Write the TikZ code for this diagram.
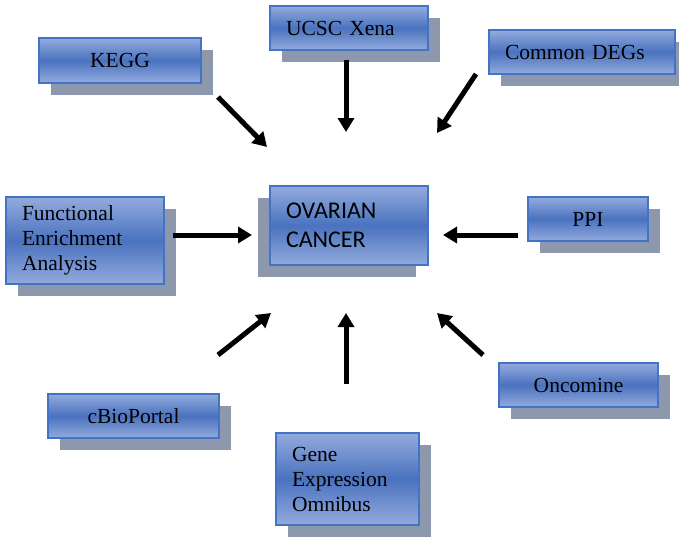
\documentclass[tikz,border=0pt]{standalone}
\usepackage{fontspec}
\setmainfont{Liberation Serif}
\newfontfamily\calibfont{Carlito}
\usepackage{tikz}
\usetikzlibrary{arrows.meta,shadows}

\definecolor{boxlight}{HTML}{93ABDD}
\definecolor{boxdark}{HTML}{4A72BF}
\definecolor{boxline}{HTML}{4472C4}
\definecolor{shadowgray}{HTML}{8E98AC}

\tikzset{
  srcbox/.style={draw=boxline, line width=1.2pt, top color=boxlight, bottom color=boxlight,
    middle color=boxdark, inner ysep=0pt, minimum height=#1,
    font=\fontsize{21.5}{25}\selectfont},
  rshadow/.style={general shadow={fill=shadowgray, shadow xshift=12pt, shadow yshift=-12pt}},
  lshadow/.style={general shadow={fill=shadowgray, shadow xshift=-12pt, shadow yshift=-12pt}},
  cbox/.style={srcbox=44pt, rshadow, align=center, inner xsep=0pt},
  lbox/.style={srcbox=#1, rshadow, align=left, inner xsep=16pt},
  flow/.style={line width=5pt, -{Triangle[length=14pt,width=16pt]}}
}

\begin{document}
\begin{tikzpicture}[x=1pt,y=-1pt]
    \useasboundingbox (0,0) rectangle (679,539);

    % sources round the centre
    \node[cbox, minimum width=162pt, minimum height=45pt] (kegg) at (120,60.5) {KEGG};
    \node[lbox=44pt, text width=126pt] (ucsc) at (349,28) {UCSC Xena};
    \node[lbox=44pt, text width=154pt] (degs) at (582,52) {Common DEGs};
    \node[lbox=87pt, text width=126pt] (fea) at (85,240.5) {Functional\\Enrichment\\Analysis};
    \node[cbox, minimum width=120pt] (ppi) at (588,219) {PPI};
    \node[cbox, minimum width=159pt] (onco) at (578.5,385) {Oncomine};
    \node[cbox, minimum width=171pt] (cbio) at (133.5,416) {cBioPortal};
    \node[lbox=92pt, text width=111pt] (geo) at (347.5,479) {Gene\\Expression\\Omnibus};

    % the centre box, shadow to the left
    \node[srcbox=79pt, lshadow, align=left, inner xsep=16pt, text width=126pt,
      font=\calibfont\fontsize{24}{29}\selectfont]
      (ovarian) at (349,225.5) {OVARIAN\\CANCER};

    \coordinate (kegg-t) at (218,97);   \coordinate (kegg-h) at (267,147);
    \coordinate (ucsc-t) at (346,60);   \coordinate (ucsc-h) at (346,132);
    \coordinate (degs-t) at (476,74);   \coordinate (degs-h) at (437,133);
    \coordinate (fea-t)  at (173,235);  \coordinate (fea-h)  at (252,235);
    \coordinate (ppi-t)  at (518,235);  \coordinate (ppi-h)  at (443,235);
    \coordinate (cbio-t) at (218,355);  \coordinate (cbio-h) at (271,313);
    \coordinate (geo-t)  at (346,384);  \coordinate (geo-h)  at (346,313);
    \coordinate (onco-t) at (483,355);  \coordinate (onco-h) at (437,313);

    \foreach \X in {kegg,ucsc,degs,fea,ppi,cbio,geo,onco}{
      \draw[flow] (\X-t) -- (\X-h);
    }
\end{tikzpicture}
\end{document}
